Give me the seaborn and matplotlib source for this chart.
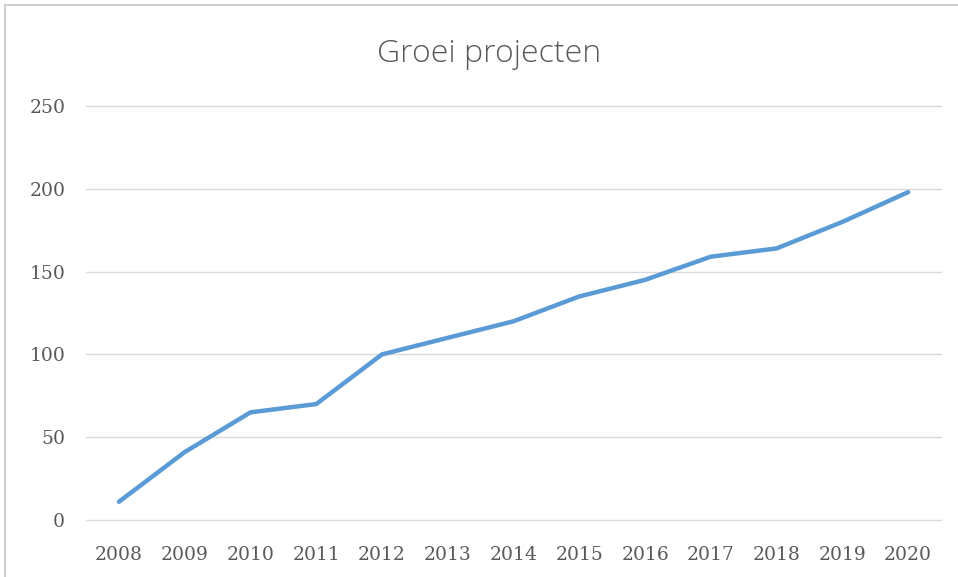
import matplotlib
matplotlib.use("Agg")
import matplotlib.pyplot as plt
import seaborn as sns
import pandas as pd
from matplotlib.lines import Line2D

# data
years = ["2008", "2009", "2010", "2011", "2012", "2013", "2014",
         "2015", "2016", "2017", "2018", "2019", "2020"]
projects = [11, 41, 65, 70, 100, 110, 120, 135, 145, 159, 164, 180, 198]
y_ticks = [0, 50, 100, 150, 200, 250]

df = pd.DataFrame({"year": years, "projects": projects})

sns.set_style("white")
fig = plt.figure(figsize=(9.58, 5.77), dpi=100)
ax = fig.add_axes([0.0898, 0.0988, 0.8925, 0.7175])

sns.lineplot(data=df, x="year", y="projects", ax=ax, color="#5B9BD5",
             linewidth=3.2, solid_capstyle="round")

ax.set_xlim(-0.5, len(years) - 0.5)
ax.set_ylim(0, 250)
ax.set_yticks(y_ticks)
ax.yaxis.grid(True, color="#d9d9d9", linewidth=1)
ax.set_axisbelow(True)
for gl in ax.get_ygridlines():
    gl.set_clip_on(False)
for s in ax.spines.values():
    s.set_visible(False)
ax.set_xlabel("")
ax.set_ylabel("")

ax.tick_params(axis="y", length=0, pad=15)
ax.tick_params(axis="x", length=0, pad=19)
for lab in ax.get_xticklabels() + ax.get_yticklabels():
    lab.set_fontfamily("DejaVu Serif")
    lab.set_fontsize(13.5)
    lab.set_color("#595959")

fig.text(0.511, 0.906, "Groei projecten", ha="center", va="center",
         fontsize=23, color="#595959", family="Open Sans", fontweight="light")

# outer chart frame (top and left edges visible)
fig.add_artist(Line2D([0.005, 1.0], [0.992, 0.992], color="#d0d0d0", linewidth=1.5,
                      transform=fig.transFigure))
fig.add_artist(Line2D([0.0055, 0.0055], [0.0, 0.992], color="#d0d0d0", linewidth=1.5,
                      transform=fig.transFigure))

fig.savefig("out.png", dpi=100)
